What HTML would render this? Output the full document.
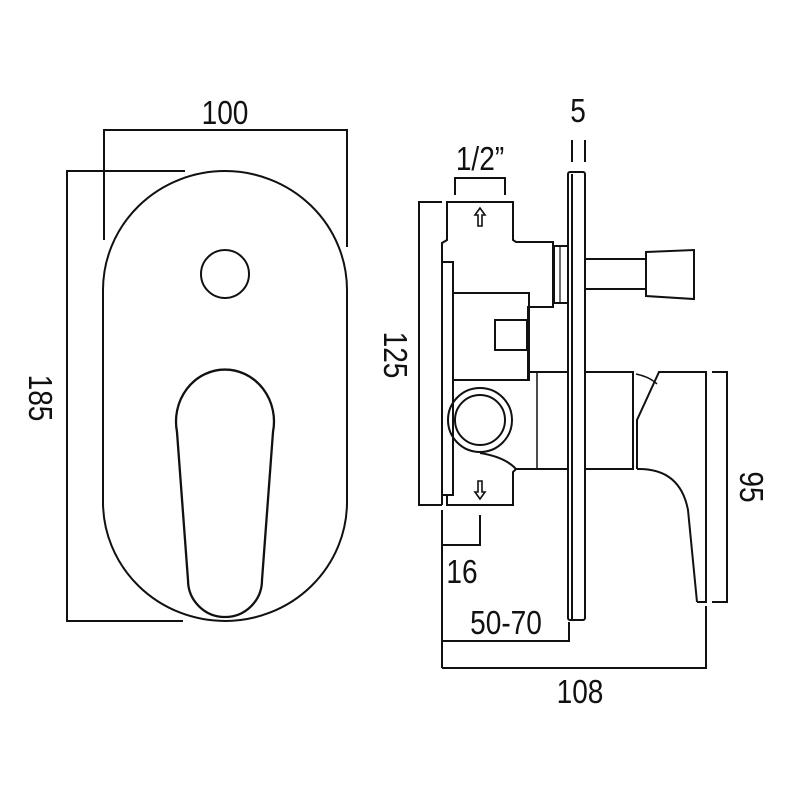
<!DOCTYPE html>
<html><head><style>
html,body{margin:0;padding:0;background:#fff;width:800px;height:800px;overflow:hidden}
text{font-family:"Liberation Sans",sans-serif;font-size:33px;fill:#111}
</style></head><body>
<svg width="800" height="800" viewBox="0 0 800 800" xmlns="http://www.w3.org/2000/svg">
<g fill="none" stroke="#111" stroke-width="2">
<path d="M103,290 A122,119 0 0 1 347,290 L347,502 A122,119 0 0 1 103,502 Z"/>
<circle cx="225" cy="274" r="24"/>
<path d="M177,432 A49,52 0 1 1 273,432 L262,580 A37,37 0 0 1 188,580 Z" stroke-width="2.3"/>
<polyline points="185,171 67,171 67,621 183,621"/>
<polyline points="104,240 104,130 347,130 347,247"/>
<polyline points="442,505 442,243 447,240 447,202 513,202 513,240 516,242 553,242 553,307 528,307 528,380"/>
<rect x="442" y="262" width="11" height="233"/>
<polyline points="453,293 529,293 529,380 453,380"/>
<rect x="495" y="320" width="32" height="30"/>
<circle cx="480" cy="420" r="32"/>
<circle cx="480" cy="420" r="25"/>
<polyline points="447,495 447,505 513,505 513,472 516,469"/>
<path d="M480,453 Q505,457 516,469"/>
<line x1="528" y1="372" x2="568" y2="372"/>
<line x1="516" y1="469" x2="568" y2="469"/>
<line x1="537" y1="372" x2="537" y2="469" stroke-width="1.5"/>
<rect x="554" y="246" width="14" height="57"/>
<line x1="560" y1="246" x2="560" y2="303" stroke-width="1.2"/>
<rect x="568" y="172" width="17" height="448" rx="2"/>
<line x1="572" y1="174" x2="572" y2="620"/>
<polyline points="585,259 646,259"/>
<polyline points="585,289 646,289"/>
<polygon points="646,252 694,250 694,299 646,296"/>
<polyline points="585,372 633,372 633,469 585,469"/>
<path d="M636,374 Q650,377 657,384" stroke-width="1.5"/>
<polyline points="637,469 637,420 659,372 706,372 706,602 697,602"/>
<path d="M637,469 Q680,468 688,510 L697,602"/>
<path d="M480,208 L475,215 L478,215 L478,226 L482,226 L482,215 L485,215 Z" stroke-width="1.6"/>
<path d="M480,499 L475,492 L478,492 L478,481 L482,481 L482,492 L485,492 Z" stroke-width="1.6"/>
<polyline points="442,202 419,202 419,505 442,505"/>
<polyline points="455,195 455,178 505,178 505,195"/>
<line x1="572" y1="140" x2="572" y2="162"/>
<line x1="585" y1="140" x2="585" y2="162"/>
<polyline points="442,510 442,545 480,545 480,515"/>
<line x1="442" y1="545" x2="442" y2="668"/>
<polyline points="442,641 569,641 569,622"/>
<polyline points="442,668 706,668 706,606"/>
<polyline points="712,372 727,372 727,602 712,602"/>
</g>
<g>
<text transform="translate(225,124) scale(0.85,1)" text-anchor="middle">100</text>
<text transform="translate(29,398) rotate(90) scale(0.85,1)" text-anchor="middle">185</text>
<text transform="translate(480,170) scale(0.85,1)" text-anchor="middle">1/2”</text>
<text transform="translate(578,122) scale(0.85,1)" text-anchor="middle">5</text>
<text transform="translate(384,355) rotate(90) scale(0.85,1)" text-anchor="middle">125</text>
<text transform="translate(740,487) rotate(90) scale(0.85,1)" text-anchor="middle">95</text>
<text transform="translate(462,583) scale(0.85,1)" text-anchor="middle">16</text>
<text transform="translate(506,634) scale(0.85,1)" text-anchor="middle">50-70</text>
<text transform="translate(580,703) scale(0.85,1)" text-anchor="middle">108</text>
</g>
</svg>
</body></html>
